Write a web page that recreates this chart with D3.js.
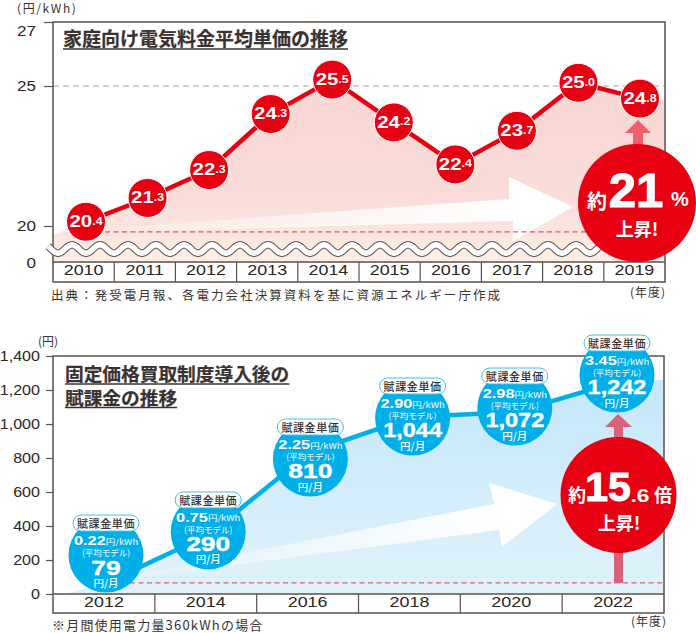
<!DOCTYPE html>
<html>
<head>
<meta charset="utf-8">
<script src="https://cdn.jsdelivr.net/npm/d3@7"></script>
<style>
  body { margin: 0; background: #fff; }
  text { font-family: "Noto Sans CJK JP", sans-serif; fill: #3a3230; }
  .num { font-family: "Liberation Sans", sans-serif; }
  .domain { display: none; }
</style>
</head>
<body>
<svg id="chart" width="696" height="633"></svg>
<script>
// top chart
const priceYears = ["2010","2011","2012","2013","2014","2015","2016","2017","2018","2019"];
const priceLabels = ["20.4","21.3","22.3","24.3","25.5","24.2","22.4","23.7","25.0","24.8"];
// the original is not drawn to scale, so these are the heights read against its axis
const priceHeights = [20.15,21.0,22.0,24.0,25.2,23.7,22.2,23.4,25.1,24.55];
const priceTicks = [0,20,25,27];
const priceAreaLeft = 15, priceAreaRight = 24.5, priceRefLine = 16.7;

// bottom chart
const billYears = ["2012","2014","2016","2018","2020","2022"];
const billRates = ["0.22","0.75","2.25","2.90","2.98","3.45"];
const billLabels = ["79","290","810","1,044","1,072","1,242"];
const billLine = [65,347,835,1041,1070,1247];      // where the line runs
const billBubbles = [229,365,794,1035,1094,1288];  // where the bubbles sit
const billTicks = [0,200,400,600,800,1000,1200,1400];
const billAreaRight = 1259, billRefLine = 65;

const frameColor = "#5a524e";
const red = "#e60012";
const blue = "#00aee8";
const svg = d3.select("#chart");

const defs = svg.append("defs");
function gradient(id, x1, y1, x2, y2, stops) {
  const g = defs.append("linearGradient").attr("id", id).attr("gradientUnits", "userSpaceOnUse")
    .attr("x1", x1).attr("y1", y1).attr("x2", x2).attr("y2", y2);
  stops.forEach(s => g.append("stop").attr("offset", s[0]).attr("stop-color", s[1]).attr("stop-opacity", s[2]));
}
gradient("pinkFill", 0, 100, 0, 262, [[0,"#f8d7d4",1],[0.6,"#f9dcd8",1],[1,"#fdeee6",1]]);
gradient("blueFill", 0, 380, 0, 594, [[0,"#c4e7f9",1],[1,"#e0f2fb",1]]);
gradient("fadeTop", 53, 0, 520, 0, [[0,"#fff",0],[0.5,"#fff",0.55],[1,"#fff",1]]);
gradient("fadeBottom", 70, 0, 500, 0, [[0,"#fff",0],[0.5,"#fff",0.5],[1,"#fff",1]]);

function poly(pts, fill, op) {
  svg.append("polygon").attr("points", pts.map(p => p.join(",")).join(" "))
    .attr("fill", fill).attr("opacity", op || 1);
}

// the numerals in the original are an extended grotesque, so widen Liberation Sans
function widen(sel, sx, rightEdge) {
  sel.attr("x", rightEdge / sx).attr("transform", `scale(${sx},1)`);
}

function yAxis(scale, ticks, x, fmt, size, sx, rightEdge) {
  const g = svg.append("g").attr("transform", `translate(${x},0)`)
    .call(d3.axisLeft(scale).tickValues(ticks).tickFormat(fmt).tickSize(size).tickPadding(4));
  g.selectAll("line").attr("stroke", frameColor).attr("stroke-width", 1.2);
  g.selectAll("text").attr("class", "num").style("font-size", "14px").style("fill", "#2c2522")
    .call(widen, sx, rightEdge);
  return g;
}

function categoryBox(scale, yTop, yBottom) {
  svg.append("rect").attr("x", scale.range()[0]).attr("y", yTop)
    .attr("width", scale.range()[1] - scale.range()[0]).attr("height", yBottom - yTop)
    .attr("fill", "#fff");
  const g = svg.append("g").attr("transform", `translate(0,${yTop})`)
    .call(d3.axisBottom(scale).tickSize(0).tickPadding(3));
  g.selectAll("text").attr("class", "num").style("font-size", "14px").style("fill", "#2c2522")
    .attr("transform", "scale(1.28,1)");
  scale.domain().slice(1).forEach(d => {
    svg.append("line").attr("x1", scale(d)).attr("x2", scale(d)).attr("y1", yTop).attr("y2", yBottom)
      .attr("stroke", frameColor).attr("stroke-width", 1.2);
  });
}

function frame(x0, x1, y0, y1, yBase) {
  svg.append("path").attr("fill", "none").attr("stroke", frameColor).attr("stroke-width", 1.5)
    .attr("d", `M${x0},${y0}H${x1}V${y1}H${x0}Z M${x0},${yBase}H${x1}`);
}

function title(lines, x, y, w) {
  lines.forEach((t, i) => {
    const row = y + i * 23.5;
    svg.append("text").attr("x", x).attr("y", row).text(t)
      .attr("font-size", w).attr("font-weight", 700).attr("stroke", "#3a3230").attr("stroke-width", 0.2);
    svg.append("line").attr("x1", x).attr("x2", x + t.length * w).attr("y1", row + 3).attr("y2", row + 3)
      .attr("stroke", "#3a3230").attr("stroke-width", 1.4);
  });
}

function note(t, x, y, size, anchor, spacing) {
  svg.append("text").attr("x", x).attr("y", y).text(t).attr("font-size", size)
    .attr("text-anchor", anchor || "start").attr("letter-spacing", spacing || 0);
}

function whiteText(x, y, t, size, weight) {
  return svg.append("text").attr("x", x).attr("y", y).attr("text-anchor", "middle")
    .style("fill", "#fff").attr("font-size", size)
    .attr("font-weight", weight || 700).attr("dominant-baseline", "central").text(t);
}

// white numerals, horizontally stretched about their centre
function whiteNum(x, y, t, size, sx) {
  return svg.append("text").attr("class", "num").attr("text-anchor", "middle")
    .attr("transform", `translate(${x},${y}) scale(${sx},1)`)
    .style("fill", "#fff").attr("font-size", size).attr("font-weight", 700)
    .attr("dominant-baseline", "central").text(t);
}

// ---------- top chart ----------
const xBandTop = d3.scaleBand().domain(priceYears).range([53, 665]);
const xTop = d3.scalePoint().domain(priceYears).range([86, 640]);
const yTop = d3.scaleLinear().domain(priceTicks).range([262, 226, 86, 22]);

svg.append("rect").attr("x", 53).attr("y", 22).attr("width", 612).attr("height", 240).attr("fill", "#fff");

const areaPts = [[53, priceAreaLeft]]
  .concat(priceYears.map((d, i) => [xTop(d), priceHeights[i]]))
  .concat([[665, priceAreaRight]]);
svg.append("path").attr("fill", "url(#pinkFill)")
  .attr("d", d3.area().x(d => d[0]).y0(yTop(0)).y1(d => yTop(d[1]))(areaPts));

svg.append("line").attr("x1", 53).attr("x2", 665).attr("y1", yTop(25)).attr("y2", yTop(25))
  .attr("stroke", "#a8a4a2").attr("stroke-width", 1).attr("stroke-dasharray", "6 4");

poly([[55,232],[509,199],[509,177],[573,207],[513,241],[513,221],[55,234]], "url(#fadeTop)");

svg.append("line").attr("x1", 105).attr("x2", 590).attr("y1", yTop(priceRefLine)).attr("y2", yTop(priceRefLine))
  .attr("stroke", "#e8505f").attr("stroke-width", 1.2).attr("stroke-dasharray", "5 3.5");

categoryBox(xBandTop, 262, 282);
frame(53, 665, 22, 282, 262);
yAxis(yTop, [20, 25, 27], 53, d => d, 9, 1.22, -17).selectAll("text")
  .attr("dy", d => d === 27 ? "1.0em" : "0.35em");
svg.append("text").attr("class", "num").attr("text-anchor", "end")
  .attr("transform", "translate(36,263) scale(1.22,1)")
  .attr("dominant-baseline", "central").attr("font-size", 14).style("fill", "#2c2522").text("0");

// break in the axis
const waveX = d3.range(48, 612, 1);
const wave = d3.line().x(d => d).y(d => 249 + 4.2 * Math.sin((d - 48) / 28 * 2 * Math.PI - 0.67));
svg.append("path").attr("d", wave(waveX)).attr("fill", "none").attr("stroke", frameColor).attr("stroke-width", 7.5);
svg.append("path").attr("d", wave(waveX)).attr("fill", "none").attr("stroke", "#fff").attr("stroke-width", 5.5);

svg.append("path").attr("fill", "none").attr("stroke", red).attr("stroke-width", 4.5)
  .attr("d", d3.line().x((d, i) => xTop(priceYears[i])).y(d => yTop(d))(priceHeights));

priceYears.forEach((yr, i) => {
  const cx = xTop(yr), cy = yTop(priceHeights[i]);
  svg.append("circle").attr("cx", cx).attr("cy", cy).attr("r", 19.5)
    .attr("fill", red).attr("stroke", "#fff").attr("stroke-width", 1);
  const parts = priceLabels[i].split(".");
  const t = whiteNum(cx, cy - 0.5, parts[0], 16.5, 1.24);
  t.append("tspan").attr("font-size", 10).text("." + parts[1]);
});

poly([[638,120],[651,133],[643,133],[643,150],[633,150],[633,133],[625,133]], "#ef5f6c");

svg.append("circle").attr("cx", 637).attr("cy", 203).attr("r", 59).attr("fill", red);
whiteText(597, 200, "約", 20);
whiteNum(636, 190, "21", 49, 1).attr("stroke", "#fff").attr("stroke-width", 1.2);
whiteNum(680, 199, "%", 20, 1);
whiteText(637, 228, "上昇!", 18);

note("(円/kWh)", 17, 13, 12, "start", 1.6);
title(["家庭向け電気料金平均単価の推移"], 63, 46, 19);
note("出典：発受電月報、各電力会社決算資料を基に資源エネルギー庁作成", 51, 300, 12.5, "start", 2.05);
note("(年度)", 666, 297, 12, "end", 1);

// ---------- bottom chart ----------
const xBandBottom = d3.scaleBand().domain(billYears).range([53, 664]);
const xBottom = d3.scalePoint().domain(billYears).range([106, 617]);
const yBottom = d3.scaleLinear().domain([0, 1400]).range([594, 356]);

svg.append("rect").attr("x", 53).attr("y", 356).attr("width", 611).attr("height", 238).attr("fill", "#fff");

const billPts = [[65, 0]]
  .concat(billYears.map((d, i) => [xBottom(d), billLine[i]]))
  .concat([[664, billAreaRight]]);
svg.append("path").attr("fill", "url(#blueFill)")
  .attr("d", d3.area().x(d => d[0]).y0(yBottom(0)).y1(d => yBottom(d[1]))(billPts));

poly([[70,587],[494,504],[489,483],[557,504],[502,547],[499,530]], "url(#fadeBottom)");

svg.append("line").attr("x1", 130).attr("x2", 664).attr("y1", yBottom(billRefLine)).attr("y2", yBottom(billRefLine))
  .attr("stroke", "#e8606f").attr("stroke-width", 1.2).attr("stroke-dasharray", "5 3.5");

categoryBox(xBandBottom, 594, 613);
frame(53, 664, 356, 613, 594);
yAxis(yBottom, billTicks, 53, d3.format(","), 7, 1.15, -13);

svg.append("path").attr("fill", "none").attr("stroke", blue).attr("stroke-width", 4.5)
  .attr("d", d3.line().x((d, i) => xBottom(billYears[i])).y(d => yBottom(d))(billLine));

poly([[618,414],[632,427],[623,427],[623,583],[614,583],[614,427],[605,427]], "#dc6077");

billYears.forEach((yr, i) => {
  const cx = xBottom(yr), cy = yBottom(billBubbles[i]);
  svg.append("circle").attr("cx", cx).attr("cy", cy).attr("r", 37.5).attr("fill", blue);
  svg.append("rect").attr("x", cx - 33).attr("y", cy - 40).attr("width", 66).attr("height", 16).attr("rx", 8)
    .attr("fill", "#fff").attr("stroke", "#45bdec").attr("stroke-width", 1);
  svg.append("text").attr("x", cx).attr("y", cy - 32).attr("text-anchor", "middle")
    .attr("dominant-baseline", "central").attr("font-size", 11).attr("font-weight", 500)
    .attr("letter-spacing", 0.6).text("賦課金単価");

  const rate = whiteNum(cx, cy - 14, billRates[i], 13, 1.26);
  rate.append("tspan").attr("font-size", 7.5).attr("font-weight", 400)
    .style("font-family", "'Noto Sans CJK JP'").text("円/kWh");
  whiteText(cx, cy - 3, "(平均モデル)", 8.5, 400);
  const long = billLabels[i].length > 3;
  whiteNum(cx, cy + 12, billLabels[i], 21, long ? 1.12 : 1.26).attr("stroke", "#fff").attr("stroke-width", 0.4);
  whiteText(cx, cy + 27, "円/月", 10.5, 500);
});

svg.append("circle").attr("cx", 618.5).attr("cy", 495).attr("r", 58).attr("fill", red);
whiteText(577, 494, "約", 18);
whiteNum(608, 487, "15", 41, 1).attr("stroke", "#fff").attr("stroke-width", 1);
whiteNum(640, 495, ".6", 19, 1.2);
whiteText(663, 494, "倍", 18);
whiteText(619, 522, "上昇!", 18);

note("(円)", 38, 346, 12);
title(["固定価格買取制度導入後の", "賦課金の推移"], 65, 381, 18.7);
note("※月間使用電力量360kWhの場合", 52, 630, 13, "start", 1.2);
note("(年度)", 667, 626, 12, "end", 1);
</script>
</body>
</html>
